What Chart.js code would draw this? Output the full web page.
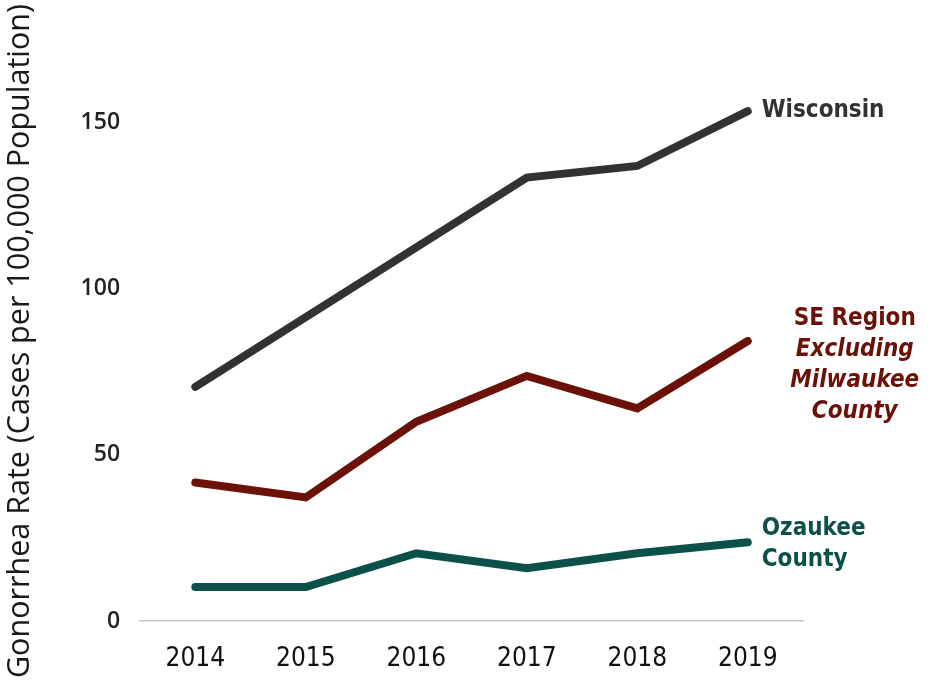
<!DOCTYPE html>
<html>
<head>
<script src="https://cdn.jsdelivr.net/npm/chart.js"></script>
<style>
  body { margin: 0; background: #fff; }
  #wrap { width: 938px; height: 682px; }
</style>
</head>
<body>
<div id="wrap"><canvas id="rates"></canvas></div>
<script>
// values
const years = ['2014', '2015', '2016', '2017', '2018', '2019'];
const wisconsin = [70.5, 91.5, 112.5, 133.5, 137, 153.5];
const seRegion = [41.7, 37.2, 60, 73.8, 64, 84.3];
const ozaukee = [10.2, 10.2, 20.4, 15.9, 20.4, 23.7];
const yTicks = [0, 50, 100, 150];

const wiLabel = ['Wisconsin'];
const seLabel = ['SE Region', 'Excluding', 'Milwaukee', 'County'];
const ozLabel = ['Ozaukee', 'County'];

const endLabels = {
  id: 'endLabels',
  afterDatasetsDraw(chart) {
    const ctx = chart.ctx;
    ctx.save();
    ctx.textBaseline = 'middle';
    chart.data.datasets.forEach((ds, i) => {
      const meta = chart.getDatasetMeta(i);
      const pt = meta.data[meta.data.length - 1];
      const lab = ds.endLabel;
      ctx.fillStyle = ds.borderColor;
      lab.lines.forEach((txt, j) => {
        const italic = lab.italicFrom !== undefined && j >= lab.italicFrom;
        ctx.font = (italic ? 'italic ' : '') + 'bold 24px "DejaVu Sans Condensed", "DejaVu Sans", sans-serif';
        ctx.textAlign = lab.align;
        ctx.fillText(txt, pt.x + lab.dx, pt.y + lab.dy + j * 31);
      });
    });
    ctx.restore();
  }
};

new Chart(document.getElementById('rates'), {
  type: 'line',
  data: {
    labels: years,
    datasets: [
      {
        label: 'Wisconsin', data: wisconsin,
        borderColor: '#333131', borderWidth: 8, pointRadius: 0,
        borderCapStyle: 'round', borderJoinStyle: 'miter',
        endLabel: { lines: wiLabel, align: 'left', dx: 14, dy: 0 }
      },
      {
        label: 'SE Region', data: seRegion,
        borderColor: '#6b1108', borderWidth: 8, pointRadius: 0,
        borderCapStyle: 'round', borderJoinStyle: 'miter',
        endLabel: { lines: seLabel, align: 'center', dx: 107, dy: -22, italicFrom: 1 }
      },
      {
        label: 'Ozaukee', data: ozaukee,
        borderColor: '#0b5149', borderWidth: 8, pointRadius: 0,
        borderCapStyle: 'round', borderJoinStyle: 'miter',
        endLabel: { lines: ozLabel, align: 'left', dx: 14, dy: -14 }
      }
    ]
  },
  options: {
    responsive: true,
    maintainAspectRatio: false,
    animation: false,
    layout: { padding: { top: 61, right: 135, bottom: -15, left: 2 } },
    plugins: { legend: { display: false }, tooltip: { enabled: false } },
    scales: {
      x: {
        offset: true,
        grid: { display: false, drawTicks: false },
        border: { display: true, color: '#c8c8c8', width: 1.5 },
        ticks: {
          color: '#111',
          padding: 25,
          font: { family: '"DejaVu Sans Condensed", sans-serif', size: 26, lineHeight: 1 }
        }
      },
      y: {
        min: 0, max: 168.6,
        afterBuildTicks(axis) { axis.ticks = yTicks.map(v => ({ value: v })); },
        grid: { display: false, drawTicks: false },
        border: { display: false },
        ticks: {
          color: '#222',
          padding: 20,
          font: { family: '"Open Sans", sans-serif', size: 23, weight: '600' }
        },
        title: {
          display: true,
          text: 'Gonorrhea Rate (Cases per 100,000 Population)',
          color: '#1a1a1a',
          padding: { top: 0, bottom: 22 },
          font: { family: '"Open Sans", sans-serif', size: 30.5 }
        }
      }
    }
  },
  plugins: [endLabels]
});
</script>
</body>
</html>
